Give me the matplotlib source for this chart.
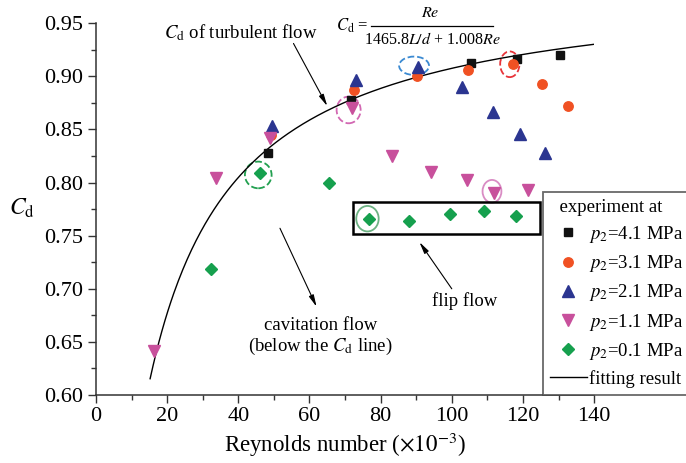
import numpy as np
import matplotlib
matplotlib.use('Agg')
import matplotlib.pyplot as plt
from matplotlib.patches import Ellipse, Rectangle
from matplotlib.ticker import MultipleLocator

plt.rcParams['font.family'] = ['Liberation Serif', 'DejaVu Serif']
plt.rcParams['mathtext.fontset'] = 'stix'

# Reynolds number (x1e-3) and discharge coefficient, one pair per outlet pressure
re_41 = [48.3, 71.6, 105.3, 118.3, 130.4]
cd_41 = [0.828, 0.878, 0.913, 0.916, 0.920]

re_31 = [49.2, 72.6, 90.2, 104.7, 117.1, 125.4, 132.8]
cd_31 = [0.845, 0.887, 0.900, 0.906, 0.912, 0.893, 0.872]

re_21 = [49.4, 73.1, 90.4, 103.0, 111.6, 119.3, 126.3]
cd_21 = [0.853, 0.897, 0.909, 0.890, 0.866, 0.846, 0.828]

re_11 = [16.3, 33.7, 49.0, 72.0, 83.3, 94.2, 104.2, 112.0, 121.5]
cd_11 = [0.641, 0.804, 0.842, 0.870, 0.825, 0.810, 0.802, 0.790, 0.793]

re_01 = [32.3, 46.1, 65.5, 76.6, 88.1, 99.5, 109.1, 118.0]
cd_01 = [0.719, 0.809, 0.800, 0.766, 0.764, 0.770, 0.773, 0.769]

labels = [r'$p_2$=4.1 MPa', r'$p_2$=3.1 MPa', r'$p_2$=2.1 MPa',
          r'$p_2$=1.1 MPa', r'$p_2$=0.1 MPa']

# fitted curve Cd = Re / (1465.8 L/d + 1.008 Re)
L_d = 6.4
re_fit = np.linspace(15.2, 140, 300)
cd_fit = re_fit * 1000 / (1465.8 * L_d + 1.008 * re_fit * 1000)

fig = plt.figure(figsize=(6.86, 4.63), dpi=100)
ax = fig.add_axes([0.140, 0.1469, 0.726, 0.8028])

ax.plot(re_fit, cd_fit, color='k', lw=1.0, label='fitting result', zorder=2)
ax.plot(re_41, cd_41, 's', color='#111111', ms=6.2, ls='none', label=labels[0], zorder=3)
ax.plot(re_31, cd_31, 'o', color='#f05123', ms=6.8, ls='none', label=labels[1], zorder=3)
ax.plot(re_21, cd_21, '^', color='#2b3590', ms=8, ls='none', label=labels[2], zorder=3)
ax.plot(re_11, cd_11, 'v', color='#c8509c', ms=8, ls='none', label=labels[3], zorder=3)
ax.plot(re_01, cd_01, 'D', color='#16a04e', ms=6.2, ls='none', label=labels[4], zorder=3)

# highlighted points
ax.add_patch(Ellipse((45.6, 0.8072), 7.5, 0.0251, fill=False, ec='#22a050', ls='--', lw=1.3))
ax.add_patch(Ellipse((71.0, 0.8684), 6.75, 0.0251, fill=False, ec='#d267b2', ls='--', lw=1.3))
ax.add_patch(Ellipse((89.4, 0.910), 8.4, 0.0173, fill=False, ec='#3b8ad2', ls='--', lw=1.3))
ax.add_patch(Ellipse((116.3, 0.9114), 5.4, 0.0242, fill=False, ec='#e8343a', ls='--', lw=1.3))
ax.add_patch(Ellipse((111.3, 0.7918), 5.3, 0.0214, fill=False, ec='#d98cc4', ls='-', lw=1.3))
ax.add_patch(Ellipse((76.3, 0.766), 6.3, 0.024, fill=False, ec='#6db283', ls='-', lw=1.3))

# flip flow box
ax.add_patch(Rectangle((72.3, 0.7514), 52.6, 0.0299, fill=False, ec='k', lw=1.8, zorder=4))

arw = dict(arrowstyle='-|>,head_length=0.7,head_width=0.15', color='k', lw=0.8,
           shrinkA=0, shrinkB=0)
ax.text(40.8, 0.941, r'$C_\mathrm{d}$ of turbulent flow', fontsize=13.5,
        ha='center', va='center')
ax.annotate('', xy=(65.0, 0.872), xytext=(55.5, 0.931), arrowprops=arw)

# fitting formula, drawn as a stacked fraction
ax.text(76.6, 0.9475, r'$C_\mathrm{d}$ =', fontsize=12, ha='right', va='center',
        clip_on=False)
ax.text(93.9, 0.9597, r'$Re$', fontsize=11.5, ha='center', va='center', clip_on=False)
ax.plot([77.2, 111.6], [0.9475, 0.9475], color='k', lw=0.9, clip_on=False)
ax.text(94.6, 0.9340, r'1465.8$L/d$ + 1.008$Re$', fontsize=11.5, ha='center',
        va='center', clip_on=False)

ax.annotate('', xy=(62.0, 0.683), xytext=(51.7, 0.757), arrowprops=arw)
ax.text(63.0, 0.6545, 'cavitation flow\n' + r'(below the $C_\mathrm{d}$ line)',
        fontsize=13.5, ha='center', va='center', multialignment='center',
        linespacing=1.1)
ax.annotate('', xy=(90.9, 0.744), xytext=(100.0, 0.700), arrowprops=arw)
ax.text(103.7, 0.688, 'flip flow', fontsize=13.5, ha='center', va='center')

ax.set_xlim(0, 140)
ax.set_ylim(0.60, 0.95)
ax.xaxis.set_major_locator(MultipleLocator(20))
ax.xaxis.set_minor_locator(MultipleLocator(10))
ax.yaxis.set_major_locator(MultipleLocator(0.05))
ax.yaxis.set_minor_locator(MultipleLocator(0.025))
ax.yaxis.set_major_formatter(plt.FormatStrFormatter('%.2f'))
ax.tick_params(which='major', direction='out', length=6, width=1.0, labelsize=16,
               color='#333333')
ax.tick_params(which='minor', direction='out', length=3.5, width=1.0, color='#333333')
ax.tick_params(axis='x', pad=3)
for s in ['top', 'right']:
    ax.spines[s].set_visible(False)
for s in ['left', 'bottom']:
    ax.spines[s].set_linewidth(1.1)
    ax.spines[s].set_color('#333333')

ax.set_xlabel(r'Reynolds number ($\times10^{-3}$)', fontsize=16.5, labelpad=3)
ax.set_ylabel(r'$C_\mathrm{d}$', fontsize=17, rotation=0)
ax.yaxis.set_label_coords(-0.148, 0.47)

handles, labs = ax.get_legend_handles_labels()
order = [1, 2, 3, 4, 5, 0]
leg = ax.legend([handles[i] for i in order], [labs[i] for i in order],
                title='  experiment at', title_fontsize=13.5, fontsize=13.5,
                loc='upper left', bbox_to_anchor=(0.7915, 0.0, 0.25, 0.5853),
                bbox_transform=fig.transFigure, borderaxespad=0, mode='expand',
                frameon=True, fancybox=False, edgecolor='#444444',
                handlelength=2.0, handletextpad=0.1, labelspacing=0.44,
                borderpad=0.35, alignment='left')
leg.get_frame().set_linewidth(1.3)

fig.savefig('out.png', dpi=100)
